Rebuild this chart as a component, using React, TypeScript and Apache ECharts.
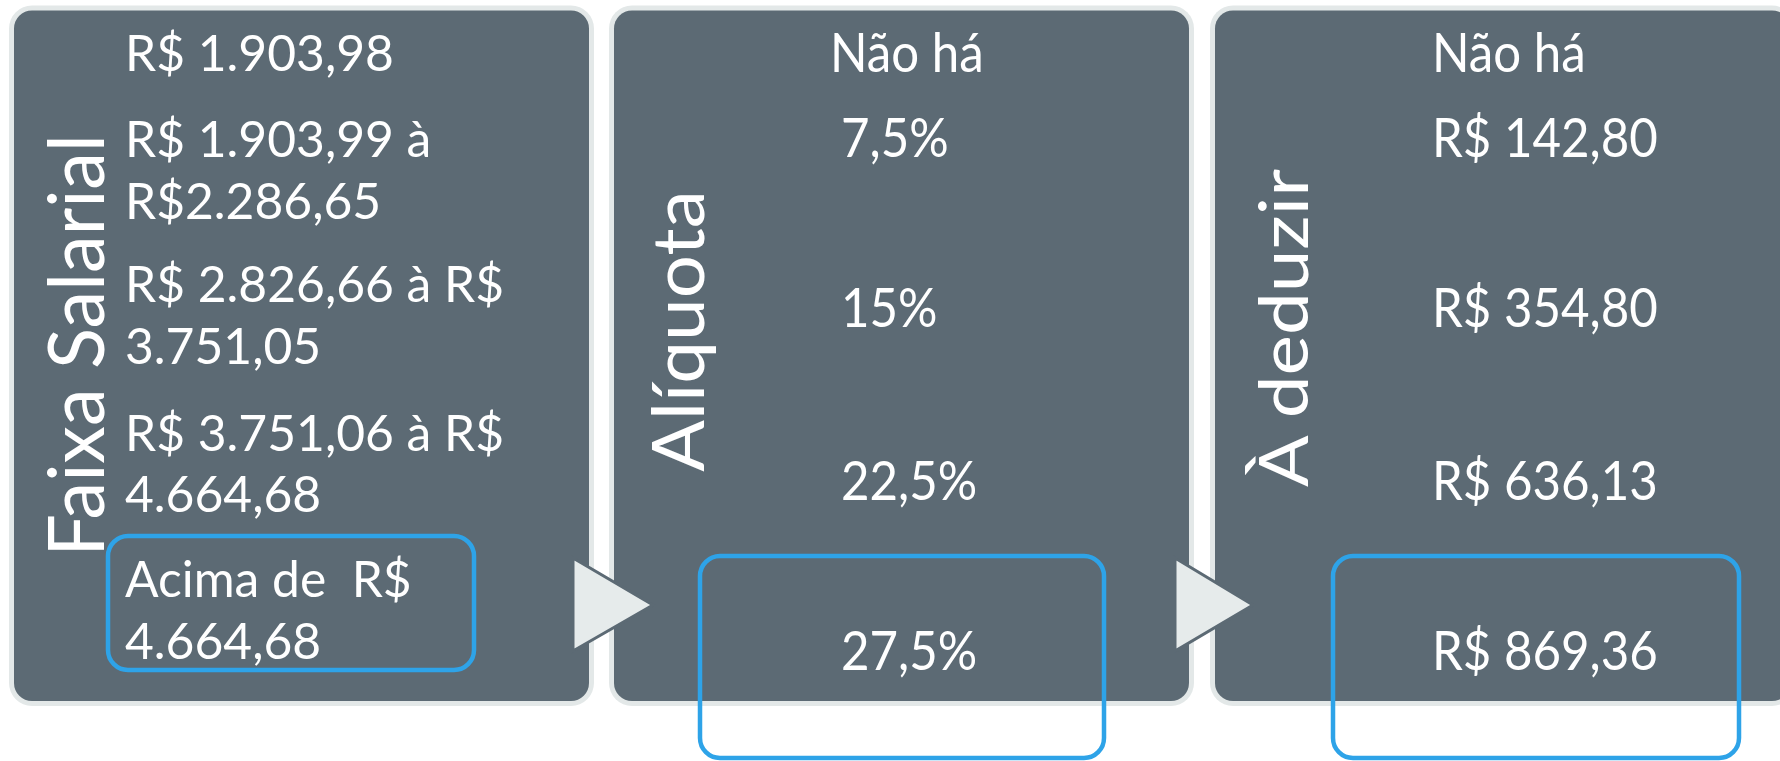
import React, { useEffect, useRef } from "react";
import * as echarts from "echarts";

// ---------- data ----------
const titles = ["Faixa Salarial", "Alíquota", "À deduzir"];
const faixas = [
  "R$ 1.903,98",
  "R$ 1.903,99 à\nR$2.286,65",
  "R$ 2.826,66 à R$\n3.751,05",
  "R$ 3.751,06 à R$\n4.664,68",
  "Acima de  R$\n4.664,68",
];
const aliquotas = ["Não há", "7,5%", "15%", "22,5%", "27,5%"];
const deducoes = ["Não há", "R$ 142,80", "R$ 354,80", "R$ 636,13", "R$ 869,36"];
const highlightedRow = 4;

// ---------- layout / style ----------
const W = 1780;
const H = 761;
const FONT = "Lato";
const DARK = "#5c6a74";
const LIGHT = "#e3e8e8";
const ARROW = "#e6ebeb";
const BLUE = "#2ea3e8";

const PANEL_X = [14, 614, 1215];
const PANEL_Y = 10.5;
const PANEL_W = 575;
const PANEL_H = 690.5;
const PANEL_R = 18;
const PANEL_BORDER = 5;

const TITLE_CX = [74, 676, 1282];
const TITLE_CY = [345.5, 331, 328];
const TITLE_CAP = [55, 52, 48];
const TITLE_LEN = [415, 274, 314];

// first-line cap centre of each paragraph, per column
const ROW_Y = [
  [50, 136.5, 281.5, 430, 576.4],
  [50, 135, 305, 478, 648],
  [50, 135, 305, 478, 648],
];
const LINE_GAP = 61.5;
const COL_X = [
  [125, 125, 125, 125, 125],
  [830, 841, 841, 841, 841],
  [1432, 1432, 1432, 1432, 1432],
];
const COL_FIT_TEXT = ["R$ 1.903,98", "R$ 869,36", "R$ 869,36"];
const COL_FIT_WIDTH = [263, 220, 220];
const COL_CAP = [36.4, 38.5, 38.5];

const HIGHLIGHT_BOX = [
  { x: 108, y: 536, w: 366, h: 134 },
  { x: 700, y: 556, w: 404, h: 202 },
  { x: 1333, y: 556, w: 406, h: 202 },
];

const ARROWS = [
  [[573, 558], [653, 605], [573, 651]],
  [[1175, 558], [1253, 605], [1175, 651]],
];

const CAP_RATIO = 0.7165;

function measure(text: string, size: number): number {
  const c = document.createElement("canvas");
  const ctx = c.getContext("2d")!;
  ctx.font = `${size}px ${FONT}`;
  return ctx.measureText(text).width;
}

function buildElements() {
  const els: any[] = [];
  // panels
  PANEL_X.forEach((px) => {
    els.push({
      type: "rect",
      shape: {
        x: px - PANEL_BORDER,
        y: PANEL_Y - PANEL_BORDER,
        width: PANEL_W + PANEL_BORDER * 2,
        height: PANEL_H + PANEL_BORDER * 2,
        r: PANEL_R + PANEL_BORDER,
      },
      style: { fill: LIGHT },
      z: 1,
    });
    els.push({
      type: "rect",
      shape: { x: px, y: PANEL_Y, width: PANEL_W, height: PANEL_H, r: PANEL_R },
      style: { fill: DARK },
      z: 2,
    });
  });

  // titles (vertical)
  titles.forEach((t, i) => {
    const fs = TITLE_CAP[i] / CAP_RATIO;
    const adv = measure(t, fs);
    const sx = (TITLE_LEN[i] + 0.1 * fs) / adv;
    els.push({
      type: "text",
      x: TITLE_CX[i],
      y: TITLE_CY[i],
      rotation: Math.PI / 2,
      scaleX: sx,
      z: 5,
      style: {
        text: t,
        fill: "#ffffff",
        fontFamily: FONT,
        fontSize: fs,
        textAlign: "center",
        textVerticalAlign: "middle",
      },
    });
  });

  // column texts
  const cols = [faixas, aliquotas, deducoes];
  cols.forEach((col, ci) => {
    const fs = COL_FIT_WIDTH[ci] / (measure(COL_FIT_TEXT[ci], 100) / 100 - 0.12);
    const sy = COL_CAP[ci] / (CAP_RATIO * fs);
    col.forEach((para, ri) => {
      para.split("\n").forEach((line, li) => {
        els.push({
          type: "text",
          x: COL_X[ci][ri],
          y: ROW_Y[ci][ri] + li * LINE_GAP + 1,
          scaleY: sy,
          z: 5,
          style: {
            text: line,
            fill: "#ffffff",
            fontFamily: FONT,
            fontSize: fs,
            textAlign: "left",
            textVerticalAlign: "middle",
          },
        });
      });
    });
  });

  // highlight boxes for the highlighted row
  HIGHLIGHT_BOX.forEach((b) => {
    els.push({
      type: "rect",
      shape: { x: b.x, y: b.y, width: b.w, height: b.h, r: 20 },
      style: { fill: "none", stroke: BLUE, lineWidth: 4.5 },
      z: 4,
      info: highlightedRow,
    });
  });

  // arrows
  ARROWS.forEach((pts) => {
    els.push({
      type: "polygon",
      shape: { points: pts },
      style: { fill: ARROW, stroke: DARK, lineWidth: 3, lineJoin: "miter" },
      z: 6,
    });
  });
  return els;
}

export default function App() {
  const ref = useRef<HTMLDivElement>(null);
  useEffect(() => {
    if (!ref.current) return;
    const chart = echarts.init(ref.current, undefined, { renderer: "svg" });
    chart.setOption({
      animation: false,
      backgroundColor: "#ffffff",
      graphic: { elements: buildElements() },
    });
    return () => chart.dispose();
  }, []);
  return (
    <div
      ref={ref}
      style={{ position: "fixed", left: 0, top: 0, width: W, height: H, background: "#fff" }}
    />
  );
}
